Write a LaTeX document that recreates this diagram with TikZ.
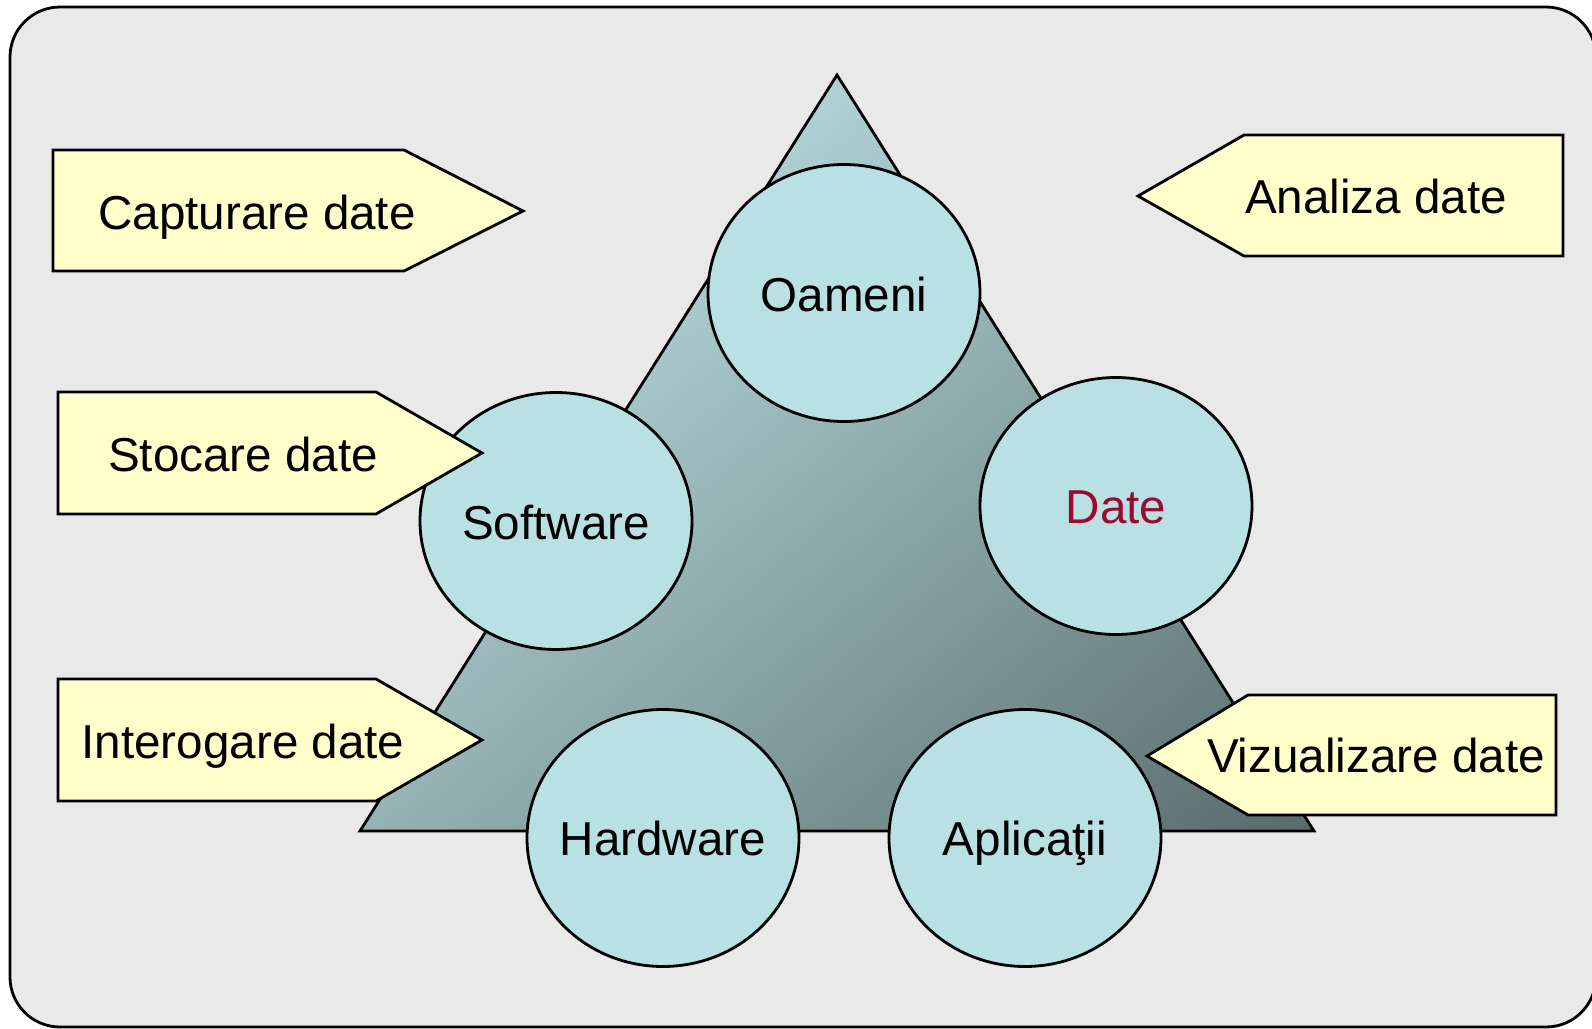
\documentclass[tikz,border=0pt]{standalone}
\usepackage{fontspec}
\setmainfont{Liberation Sans}
\usetikzlibrary{shapes.geometric}
\definecolor{panel}{HTML}{E9E9E9}
\definecolor{note}{HTML}{FFFFCC}
\definecolor{disc}{HTML}{B9E0E3}
\definecolor{triTop}{HTML}{B0D2D5}
\definecolor{triBot}{HTML}{596B6C}
\definecolor{accent}{HTML}{9B0A30}
\tikzset{
  outline/.style={draw=black, line width=1.4pt, line join=miter},
  disc/.style={ellipse, outline, fill=disc, minimum width=136pt, minimum height=128.5pt, inner sep=0pt},
  notebox/.style={outline, fill=note},
  label/.style={anchor=base, inner sep=0pt, font=\fontsize{23.8}{28}\selectfont}
}
\begin{document}
\begin{tikzpicture}[x=0.5pt, y=-0.5pt]
\useasboundingbox (0,0) rectangle (1592,1029);
% panel
\draw[outline, fill=panel, rounded corners=25pt] (10,7) rectangle (1596,1027);
% triangle with a diagonal gradient running from the apex to the lower right corner
\coordinate (apex) at (837,75);
\coordinate (baseR) at (1314,831);
\coordinate (baseL) at (360,831);
\begin{scope}
  \clip (apex) -- (baseR) -- (baseL) -- cycle;
  \shade[top color=triTop, bottom color=triBot,
         transform canvas={rotate around={40:(apex)}}]
    (-400,75) rectangle (2100,961);
\end{scope}
\draw[outline] (apex) -- (baseR) -- (baseL) -- cycle;
% circles
\node[disc] (oameni) at (844,293) {};
\node[disc] (software) at (556,521) {};
\node[disc] (date) at (1116,506) {};
\node[disc] (hardware) at (663,838) {};
\node[disc] (aplicatii) at (1025,838) {};
\node[label] at (844,311) {Oameni};
\node[label] at (556,539) {Software};
\node[label, text=accent] at (1116,523) {Date};
\node[label] at (663,855) {Hardware};
\node[label] at (1025,855) {Aplicaţii};
% pointing notes
\draw[notebox] (53,150) -- (404,150) -- (523,211) -- (404,271) -- (53,271) -- cycle;
\draw[notebox] (58,392) -- (376,392) -- (482,453) -- (376,514) -- (58,514) -- cycle;
\draw[notebox] (58,679) -- (376,679) -- (482,740) -- (376,801) -- (58,801) -- cycle;
\draw[notebox] (1563,135) -- (1244,135) -- (1138,196) -- (1244,256) -- (1563,256) -- cycle;
\draw[notebox] (1556,695) -- (1248,695) -- (1147,756) -- (1248,815) -- (1556,815) -- cycle;
\node[label] (capturare) at (257,229) {Capturare date};
\node[label] (stocare) at (243,471) {Stocare date};
\node[label] (interogare) at (243,758) {Interogare date};
\node[label] (analiza) at (1376,213) {Analiza date};
\node[label] (vizualizare) at (1376,772) {Vizualizare date};
\end{tikzpicture}
\end{document}
